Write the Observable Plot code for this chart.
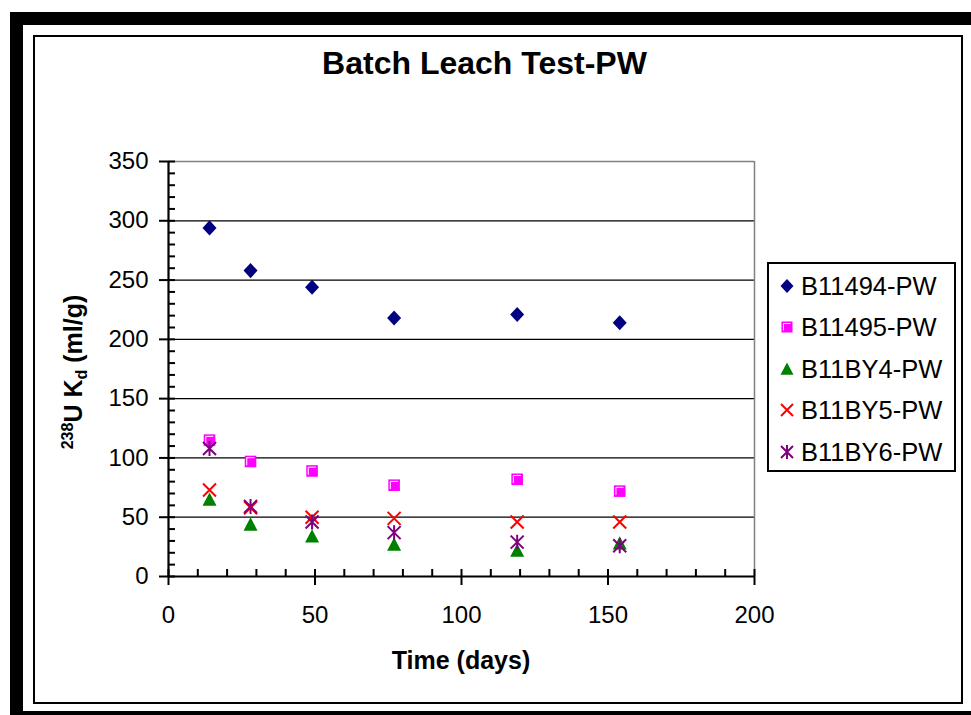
<!DOCTYPE html>
<html>
<head>
<meta charset="utf-8">
<script src="https://cdn.jsdelivr.net/npm/d3@7"></script>
<script src="https://cdn.jsdelivr.net/npm/@observablehq/plot@0.6"></script>
<style>
  body { margin: 0; background: #fff; }
  #page { position: relative; width: 971px; height: 715px; overflow: hidden; background: #fff; font-family: "Liberation Sans", Arial, sans-serif; }
  .abs { position: absolute; }
</style>
</head>
<body>
<div id="page">
  <div class="abs" style="left:10px;top:12px;width:990px;height:712px;border:13px solid #000;box-sizing:border-box;"></div>
  <div class="abs" style="left:33px;top:35px;width:930px;height:669px;border:2px solid #000;box-sizing:border-box;"></div>
  <div id="chart" class="abs" style="left:0;top:0;"></div>
  <div id="title" class="abs" style="left:0;width:969px;top:47px;text-align:center;font-weight:bold;font-size:32px;line-height:32px;">Batch Leach Test-PW</div>
  <div id="xlabel" class="abs" style="left:0;width:922px;top:648px;text-align:center;font-weight:bold;font-size:25px;line-height:25px;">Time (days)</div>
  <div id="ylabel" class="abs" style="left:75px;top:372px;transform:translate(-50%,-50%) rotate(-90deg);white-space:nowrap;font-weight:bold;font-size:25px;line-height:25px;"><span style="font-size:16px;position:relative;top:-9px;">238</span>U K<span style="font-size:16px;position:relative;top:5px;">d</span> (ml/g)</div>
  <div id="legend" class="abs" style="left:767px;top:262px;width:189px;height:210px;border:2px solid #000;box-sizing:border-box;background:#fff;"></div>
</div>
<script>
// ---- data ----
const days = [14, 28, 49, 77, 119, 154];
const seriesNames = ["B11494-PW", "B11495-PW", "B11BY4-PW", "B11BY5-PW", "B11BY6-PW"];
const b11494 = [294, 258, 244, 218, 221, 214];
const b11495 = [115, 97, 89, 77, 82, 72];
const b11by4 = [65, 44, 34, 27, 22, 28];
const b11by5 = [73, 58, 50, 49, 46, 46];
const b11by6 = [108, 59, 46, 37, 29, 26];
const yTicks = [0, 50, 100, 150, 200, 250, 300, 350];
const xTicks = [0, 50, 100, 150, 200];

// ---- symbols ----
const rad = (size) => Math.sqrt(size / Math.PI);
const symDiamond = { draw(c, s) { const r = rad(s); c.moveTo(0, -r * 1.08); c.lineTo(r, 0); c.lineTo(0, r * 1.08); c.lineTo(-r, 0); c.closePath(); } };
const symSquare = { draw(c, s) { const r = rad(s); c.rect(-r, -r, 2 * r, 2 * r); } };
const symSquareHi = { draw(c, s) { const r = rad(s); c.moveTo(-r + 2, r - 2); c.lineTo(-r + 2, -r + 2); c.lineTo(r - 2, -r + 2); } };
const symTriangle = { draw(c, s) { const r = rad(s); c.moveTo(0, -r); c.lineTo(r, r * 0.9); c.lineTo(-r, r * 0.9); c.closePath(); } };
const symX = { draw(c, s) { const r = rad(s); c.moveTo(-r, -r); c.lineTo(r, r); c.moveTo(r, -r); c.lineTo(-r, r); } };
const symStar = { draw(c, s) { const r = rad(s); c.moveTo(-r, -r); c.lineTo(r, r); c.moveTo(r, -r); c.lineTo(-r, r); c.moveTo(0, -r * 1.15); c.lineTo(0, r * 1.15); } };

const colors = ["#000080", "#FF00FF", "#008000", "#FF0000", "#800080"];
const rows = (vals) => days.map((d, i) => ({ x: d, y: vals[i] }));

const minor = d3.range(0, 351, 10);
const minorX = d3.range(0, 201, 10);

const chart = Plot.plot({
  width: 971,
  height: 715,
  marginLeft: 168,
  marginRight: 217,
  marginTop: 161,
  marginBottom: 139,
  style: { fontFamily: "'Liberation Sans', Arial, sans-serif", fontSize: "24px", background: "transparent", overflow: "visible" },
  x: { domain: [0, 200] },
  y: { domain: [0, 350] },
  marks: [
    Plot.gridY(yTicks.filter(d => d > 0 && d < 350), { stroke: "#000", strokeOpacity: 1, strokeWidth: 1.3 }),
    Plot.ruleY([350], { stroke: "#808080", strokeWidth: 1.5 }),
    Plot.ruleX([200], { stroke: "#808080", strokeWidth: 1.5 }),
    Plot.axisY({ ticks: yTicks, tickSize: 9, tickPadding: 11, strokeWidth: 2, fontSize: 24, label: null, tickFormat: d => String(d) }),
    Plot.axisY({ ticks: minor, tickSize: 7, dx: 7, strokeWidth: 2, label: null, tickFormat: () => "" }),
    Plot.axisX({ ticks: xTicks, tickSize: 9, tickPadding: 20, strokeWidth: 2, fontSize: 24, label: null, tickFormat: d => String(d) }),
    Plot.axisX({ ticks: minorX, tickSize: 7, dy: -7, strokeWidth: 2, label: null, tickFormat: () => "" }),
    Plot.ruleY([0], { stroke: "#000", strokeWidth: 2.2 }),
    Plot.ruleX([0], { stroke: "#000", strokeWidth: 2.2 }),
    Plot.dot(rows(b11495), { x: "x", y: "y", symbol: symSquare, r: 5.8, fill: colors[1], stroke: "none" }),
    Plot.dot(rows(b11495), { x: "x", y: "y", symbol: symSquareHi, r: 5.8, fill: "none", stroke: "#fff", strokeWidth: 1 }),
    Plot.dot(rows(b11by4), { x: "x", y: "y", symbol: symTriangle, r: 7, fill: colors[2], stroke: "none" }),
    Plot.dot(rows(b11by5), { x: "x", y: "y", symbol: symX, r: 6.5, fill: "none", stroke: colors[3], strokeWidth: 2 }),
    Plot.dot(rows(b11by6), { x: "x", y: "y", symbol: symStar, r: 6.5, fill: "none", stroke: colors[4], strokeWidth: 2 }),
    Plot.dot(rows(b11494), { x: "x", y: "y", symbol: symDiamond, r: 7, fill: colors[0], stroke: "none" })
  ]
});
document.getElementById("chart").appendChild(chart);

// ---- legend ----
const legendSyms = [
  [{ s: symDiamond, r: 6.5, fill: colors[0], stroke: "none" }],
  [{ s: symSquare, r: 5.5, fill: colors[1], stroke: "none" }, { s: symSquareHi, r: 5.5, fill: "none", stroke: "#fff", sw: 1 }],
  [{ s: symTriangle, r: 6.5, fill: colors[2], stroke: "none" }],
  [{ s: symX, r: 6, fill: "none", stroke: colors[3], sw: 2 }],
  [{ s: symStar, r: 6, fill: "none", stroke: colors[4], sw: 2 }]
];
const legend = d3.select("#legend");
seriesNames.forEach((name, i) => {
  const row = legend.append("div")
    .style("position", "absolute")
    .style("left", "8px")
    .style("top", (21.5 + i * 41.6 - 15) + "px")
    .style("height", "30px")
    .style("display", "flex")
    .style("align-items", "center");
  const svg = row.append("svg").attr("width", 20).attr("height", 30);
  legendSyms[i].forEach(p => {
    svg.append("path")
      .attr("transform", "translate(10,15)")
      .attr("d", d3.symbol(p.s, p.r * p.r * Math.PI)())
      .attr("fill", p.fill)
      .attr("stroke", p.stroke)
      .attr("stroke-width", p.sw || 0);
  });
  row.append("span")
    .style("margin-left", "4px")
    .style("font-size", "25.5px")
    .style("line-height", "30px")
    .text(name);
});
</script>
</body>
</html>
